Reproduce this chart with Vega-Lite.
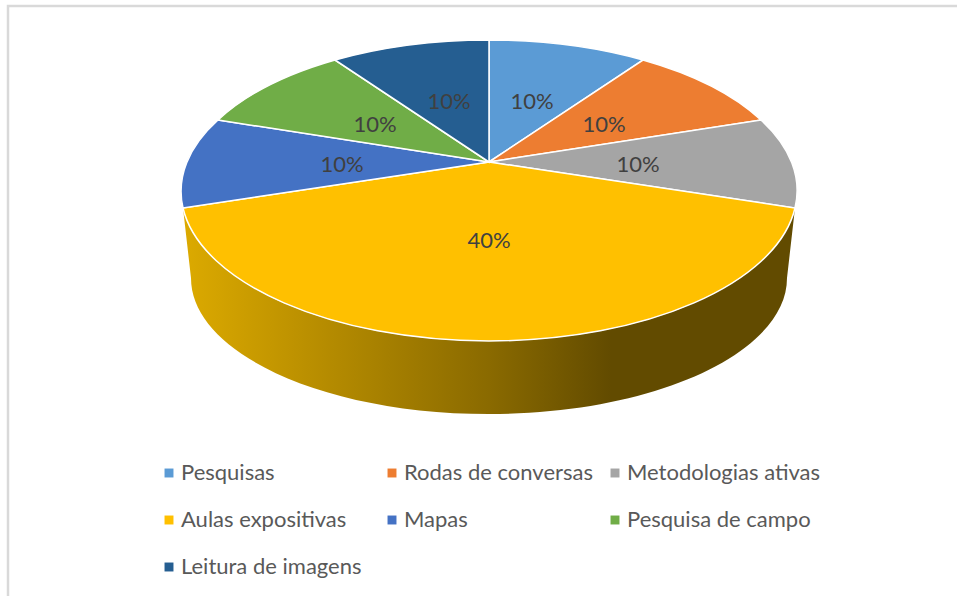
{
"$schema":"https://vega.github.io/schema/vega-lite/v6.json",
"width":952,"height":592,
"padding":{"left":8,"top":6,"right":0,"bottom":0},
"background":"white",
"config":{"view":{"stroke":"#d9d9d9","strokeWidth":2.5},"font":"Lato"},
"data":{"values":[
{"ordem":1,"categoria":"Pesquisas","valor":0.1},
{"ordem":2,"categoria":"Rodas de conversas","valor":0.1},
{"ordem":3,"categoria":"Metodologias ativas","valor":0.1},
{"ordem":4,"categoria":"Aulas expositivas","valor":0.4},
{"ordem":5,"categoria":"Mapas","valor":0.1},
{"ordem":6,"categoria":"Pesquisa de campo","valor":0.1},
{"ordem":7,"categoria":"Leitura de imagens","valor":0.1}
]},
"resolve":{"scale":{"color":"independent"},"legend":{"color":"independent"}},
"layer":[
{"transform":[{"filter":"datum.categoria === 'Aulas expositivas'"}],
 "mark":{"type":"point","filled":true,"opacity":1,"size":4,"strokeWidth":0,
 "shape":"M-301 -94L-293 -24A298 136 0 0 0 5 112A298 136 0 0 0 303 -24L311 -94A308 150 0 0 1 -301 -94Z",
 "fill":{"gradient":"linear","x1":0,"x2":1,"y1":0,"y2":0,"stops":[{"offset":0,"color":"#dcaa00"},{"offset":0.2,"color":"#bb9000"},{"offset":0.5,"color":"#8a6a00"},{"offset":0.7,"color":"#624b00"},{"offset":1,"color":"#624b00"}]}}},
{"mark":{"type":"point","filled":true,"opacity":1,"size":4,"stroke":"#ffffff","strokeWidth":1.5},
 "encoding":{
 "color":{"field":"categoria","type":"nominal",
  "scale":{"domain":["Pesquisas","Rodas de conversas","Metodologias ativas","Aulas expositivas","Mapas","Pesquisa de campo","Leitura de imagens"],
  "range":["#5b9bd5","#ed7d31","#a5a5a5","#ffc000","#4472c4","#70ad47","#255e91"]},
  "legend":null},
 "shape":{"field":"categoria","type":"nominal","legend":null,
  "scale":{"domain":["Pesquisas","Rodas de conversas","Metodologias ativas","Aulas expositivas","Mapas","Pesquisa de campo","Leitura de imagens"],
  "range":[
  "M5 -140L5 -262A308 150 0 0 1 159 -242Z",
  "M5 -140L159 -242A308 150 0 0 1 277 -182Z",
  "M5 -140L277 -182A308 150 0 0 1 311 -94Z",
  "M5 -140L311 -94A308 150 0 0 1 -301 -94Z",
  "M5 -140L-301 -94A308 150 0 0 1 -266 -182Z",
  "M5 -140L-266 -182A308 150 0 0 1 -149 -242Z",
  "M5 -140L-149 -242A308 150 0 0 1 5 -262Z"]}}
 }},
{"mark":{"type":"text","font":"Lato","fontSize":22,"color":"#404040","align":"center","baseline":"middle"},
 "encoding":{
 "x":{"field":"ordem","type":"quantitative","axis":null,"scale":{"domain":[1,2,3,4,5,6,7],"range":[524,596,630,481,334,367,441]}},
 "y":{"field":"ordem","type":"quantitative","axis":null,"scale":{"domain":[1,2,3,4,5,6,7],"range":[96,119,159,235,159,119,96]}},
 "text":{"field":"valor","type":"quantitative","format":".0%"}
 }},
{"mark":{"type":"square","size":0,"opacity":1},
 "encoding":{
 "color":{"field":"categoria","type":"nominal",
  "scale":{"domain":["Pesquisas","Aulas expositivas","Pesquisa de campo","Rodas de conversas","Mapas","Leitura de imagens","Metodologias ativas"],
  "range":["#5b9bd5","#ffc000","#70ad47","#ed7d31","#4472c4","#255e91","#a5a5a5"]},
  "legend":{"title":null,"orient":"none","legendX":150,"legendY":456,"columns":3,"gridAlign":"all","symbolType":"square","symbolSize":80,"symbolStrokeWidth":0,"labelFont":"Lato","labelFontSize":22,"labelColor":"#595959","labelLimit":300,"rowPadding":25,"columnPadding":6,"labelOffset":1,"symbolOpacity":1}}
 }}
]
}
